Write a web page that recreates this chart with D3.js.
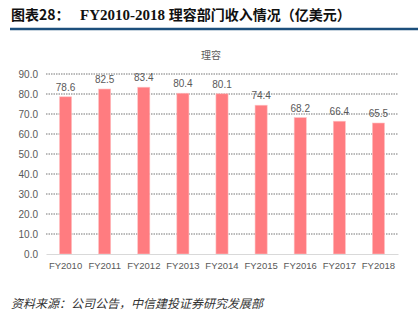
<!DOCTYPE html>
<html>
<head>
<meta charset="utf-8">
<script src="https://cdn.jsdelivr.net/npm/d3@7"></script>
<style>
  body { margin: 0; background: #fff; }
  text { font-family: "Liberation Sans", "Noto Sans CJK SC", sans-serif; }
</style>
</head>
<body>
<div id="chart"></div>
<script>
const width = 418
const height = 319

const categories = ['FY2010', 'FY2011', 'FY2012', 'FY2013', 'FY2014', 'FY2015', 'FY2016', 'FY2017', 'FY2018']
const revenue = [78.6, 82.5, 83.4, 80.4, 80.1, 74.4, 68.2, 66.4, 65.5]
const yTicks = [0, 10, 20, 30, 40, 50, 60, 70, 80, 90]
const seriesName = '理容'

const margin = {top: 74, right: 20, bottom: 65, left: 46}

const svg = d3.select('#chart')
    .append('svg')
    .attr('width', width)
    .attr('height', height)

// title
svg.append('text')
   .attr('x', 11)
   .attr('y', 20)
   .style('font-family', '"Noto Sans CJK SC", sans-serif')
   .style('font-weight', 'bold')
   .style('font-size', '14px')
   .attr('fill', '#111')
   .text('图表28：')

const t2 = svg.append('text')
   .attr('x', 80)
   .attr('y', 20)
   .style('font-weight', 'bold')
   .style('font-size', '14px')
   .attr('fill', '#111')
t2.append('tspan').style('font-family', '"Liberation Serif", serif').style('font-size', '15px').text('FY2010-2018 ')
t2.append('tspan').style('font-family', '"Noto Sans CJK SC", sans-serif').text('理容部门收入情况（亿美元）')

svg.append('line')
   .attr('x1', 10).attr('x2', 418)
   .attr('y1', 29).attr('y2', 29)
   .attr('stroke', '#1c4f7c')
   .attr('stroke-width', 2.5)

const x = d3.scaleBand()
    .domain(categories)
    .range([margin.left, width - margin.right])
    .paddingInner(0.69)
    .paddingOuter(0.345)

const y = d3.scaleLinear()
    .domain([0, 90])
    .range([height - margin.bottom, margin.top])

// grid
svg.append('g')
   .selectAll('line')
   .data(yTicks.slice(1))
   .enter()
   .append('line')
   .attr('x1', margin.left)
   .attr('x2', width - margin.right)
   .attr('y1', d => y(d))
   .attr('y2', d => y(d))
   .attr('stroke', '#777')
   .attr('stroke-width', 1)
   .attr('stroke-dasharray', '1.5,1')

const yAxis = d3.axisLeft(y).tickValues(yTicks).tickFormat(d3.format('.1f')).tickSize(0).tickPadding(8)
const gy = svg.append('g')
   .attr('transform', `translate(${margin.left},0)`)
   .call(yAxis)
gy.select('.domain').remove()
gy.selectAll('text').attr('fill', '#595959').style('font-size', '10px')

// bars
svg.selectAll('rect.bar')
   .data(revenue)
   .enter()
   .append('rect')
   .attr('class', 'bar')
   .attr('x', (d, i) => x(categories[i]))
   .attr('y', d => y(d))
   .attr('width', x.bandwidth())
   .attr('height', d => y(0) - y(d))
   .attr('fill', '#ff7c80')
   .attr('stroke', '#ffc2c4')
   .attr('stroke-width', 0.6)

svg.selectAll('text.lbl')
   .data(revenue)
   .enter()
   .append('text')
   .attr('class', 'lbl')
   .attr('x', (d, i) => x(categories[i]) + x.bandwidth() / 2)
   .attr('y', d => y(d) - 6)
   .attr('text-anchor', 'middle')
   .attr('fill', '#595959')
   .style('font-size', '10px')
   .text(d => d.toFixed(1))

const xAxis = d3.axisBottom(x).tickSize(0).tickPadding(8)
const gx = svg.append('g')
   .attr('transform', `translate(0,${y(0)})`)
   .call(xAxis)
gx.select('.domain').attr('stroke', '#d9d9d9')
gx.selectAll('text').attr('fill', '#595959').style('font-size', '9.5px')

// legend
svg.append('text')
   .attr('x', 211)
   .attr('y', 59)
   .attr('text-anchor', 'middle')
   .attr('fill', '#595959')
   .style('font-size', '10px')
   .style('font-family', '"Noto Sans CJK SC", sans-serif')
   .text(seriesName)

// source
svg.append('text')
   .attr('x', 11)
   .attr('y', 308)
   .attr('fill', '#333')
   .style('font-size', '12px')
   .style('font-style', 'italic')
   .style('font-family', '"Noto Sans CJK SC", sans-serif')
   .text('资料来源：公司公告，中信建投证券研究发展部')
</script>
</body>
</html>
